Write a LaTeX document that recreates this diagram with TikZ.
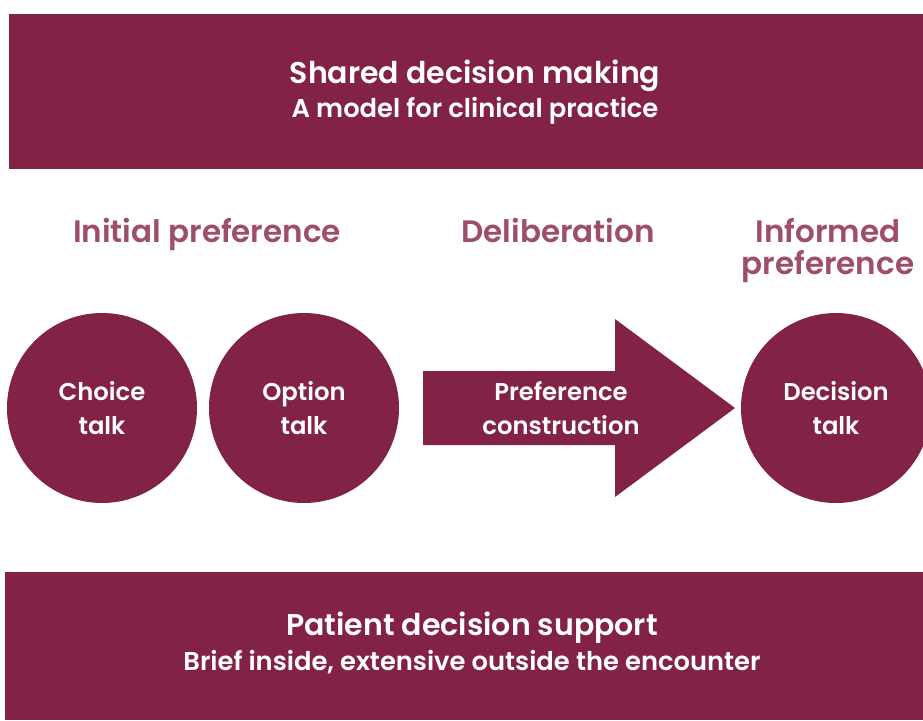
\documentclass[tikz,border=0pt]{standalone}
\usepackage{fontspec}
\setmainfont{Poppins}[BoldFont={Poppins SemiBold}]
\definecolor{wine}{HTML}{832247}
\definecolor{winelight}{HTML}{9E4E68}
\begin{document}
\begin{tikzpicture}[x=1pt,y=-1pt,
  banner/.style={fill=wine,draw=none},
  talkfont/.style={text=white,font=\fontsize{24.3}{34}\selectfont\bfseries,align=center},
  talk/.style={circle,fill=wine,minimum size=190pt,inner sep=0pt,talkfont},
  heading/.style={text=winelight,font=\fontsize{31}{32}\selectfont\bfseries,anchor=base,inner sep=0pt},
  btitle/.style={text=white,font=\fontsize{30}{30}\selectfont\bfseries,anchor=base,inner sep=0pt},
  bsub/.style={text=white,font=\fontsize{25.8}{26}\selectfont\bfseries,anchor=base,inner sep=0pt}]
\useasboundingbox (0,0) rectangle (923,720);
\fill[white] (0,0) rectangle (923,720);
\fill[banner] (9,14) rectangle (923,169);
\fill[banner] (5,572) rectangle (923,720);
\node[btitle] (t1) at (475,83) {Shared decision making};
\node[bsub] (t2) at (475,117) {A model for clinical practice};
\node[btitle] (b1) at (472,635) {Patient decision support};
\node[bsub] (b2) at (472,670) {Brief inside, extensive outside the encounter};
\node[heading] (h1) at (207,242) {Initial preference};
\node[heading] (h2) at (558,242) {Deliberation};
\node[heading] (h3a) at (828,242) {Informed};
\node[heading] (h3b) at (828,274) {preference};
\node[talk] (c1) at (102,408) {Choice\\talk};
\node[talk] (c2) at (304,408) {Option\\talk};
\node[talk] (c3) at (836,408) {Decision\\talk};
\fill[wine] (423,371) -- (615,371) -- (615,319) -- (735,408) -- (615,497) -- (615,445) -- (423,445) -- cycle;
\node[talkfont] (pc) at (561,408) {Preference\\construction};
\end{tikzpicture}
\end{document}
